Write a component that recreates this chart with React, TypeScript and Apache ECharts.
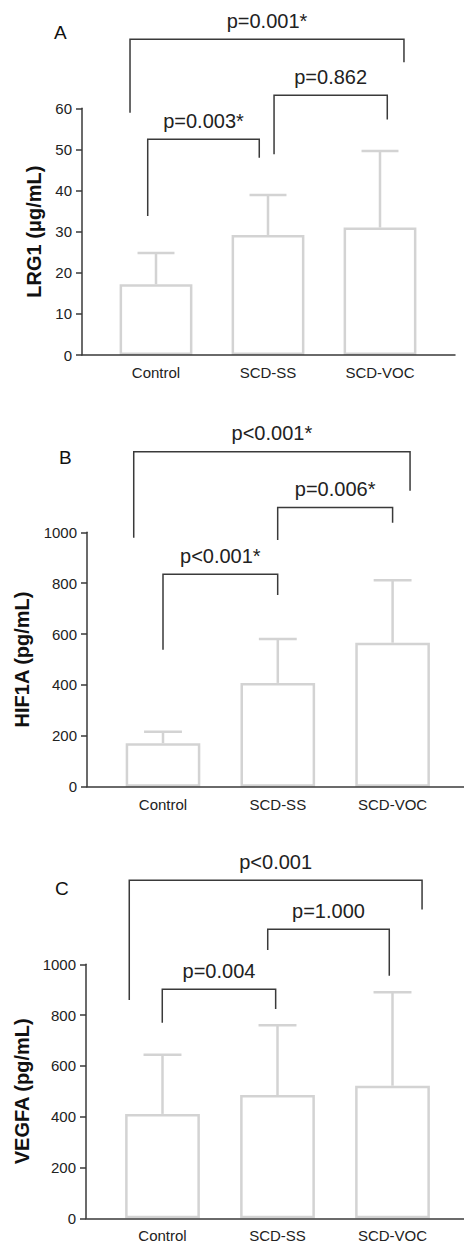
import React, { useEffect, useRef } from "react";
import * as echarts from "echarts";

const categories = ["Control", "SCD-SS", "SCD-VOC"];

// Panel A: LRG1 (µg/mL)
const lrg1Mean = [17.2, 29.2, 31.0];
const lrg1SD = [7.6, 9.7, 18.6];
// Panel B: HIF1A (pg/mL)
const hif1aMean = [171, 408, 566];
const hif1aSD = [45, 173, 246];
// Panel C: VEGFA (pg/mL)
const vegfaMean = [411, 485, 522];
const vegfaSD = [233, 275, 368];

// brackets: [xStart(cat units), xEnd(cat units), level, leftLegEnd, rightLegEnd]
const lrg1Brackets = [
  [-0.232, 2.214, 76.8, 58.9, 71.2],
  [-0.074, 0.922, 52.5, 33.8, 48.0],
  [1.054, 2.065, 63.2, 48.8, 57.3],
];
const lrg1BracketLabels = ["p=0.001*", "p=0.003*", "p=0.862"];
const hif1aBrackets = [
  [-0.255, 2.152, 1317, 979, 1163],
  [0.999, 2.0, 1097, 970, 1038],
  [0.0, 0.999, 835, 538, 754],
];
const hif1aBracketLabels = ["p<0.001*", "p=0.006*", "p<0.001*"];
const vegfaBrackets = [
  [-0.289, 2.257, 1331, 859, 1216],
  [0.915, 1.972, 1138, 1056, 955],
  [-0.002, 0.984, 902, 770, 824],
];
const vegfaBracketLabels = ["p<0.001", "p=1.000", "p=0.004"];

const yMax = [60, 1000, 1000];
const yInterval = [10, 200, 200];
const yNames = ["LRG1 (μg/mL)", "HIF1A (pg/mL)", "VEGFA (pg/mL)"];
const panelLetters = ["A", "B", "C"];

const FONT = "'Liberation Sans', Arial, Helvetica, sans-serif";
const BAR_COLOR = "#d3d3d3";
const LINE_COLOR = "#3a3a3a";
const TEXT_COLOR = "#222";

export default function App() {
  const ref = useRef<HTMLDivElement>(null);

  useEffect(() => {
    if (!ref.current) return;
    const chart = echarts.init(ref.current, undefined, { renderer: "svg" });

    const means = [lrg1Mean, hif1aMean, vegfaMean];
    const sds = [lrg1SD, hif1aSD, vegfaSD];
    const brackets = [lrg1Brackets, hif1aBrackets, vegfaBrackets];
    const bracketLabels = [lrg1BracketLabels, hif1aBracketLabels, vegfaBracketLabels];

    // layout (pixels)
    const layout = [
      { dataLeft: 100, dataWidth: 336, frameLeft: 82, frameWidth: 373, top: 108.3, height: 246.7, nameGap: 37, letter: { left: 54, top: 23 } },
      { dataLeft: 105.6, dataWidth: 344.4, frameLeft: 87, frameWidth: 377, top: 532.3, height: 254.4, nameGap: 55, letter: { left: 59, top: 448 } },
      { dataLeft: 105, dataWidth: 345, frameLeft: 86, frameWidth: 378, top: 964.3, height: 254, nameGap: 54, letter: { left: 55, top: 879 } },
    ];

    const grid: any[] = [];
    const xAxis: any[] = [];
    const yAxis: any[] = [];
    const series: any[] = [];
    const title: any[] = [];

    layout.forEach((L, p) => {
      const frameIdx = 2 * p;
      const dataIdx = 2 * p + 1;
      grid.push({ left: L.frameLeft, width: L.frameWidth, top: L.top, height: L.height });
      grid.push({ left: L.dataLeft, width: L.dataWidth, top: L.top, height: L.height });

      xAxis.push({
        type: "value",
        gridIndex: frameIdx,
        min: 0,
        max: 1,
        z: 5,
        axisLine: { show: true, lineStyle: { color: LINE_COLOR, width: 1.5 } },
        axisTick: { show: false },
        axisLabel: { show: false },
        splitLine: { show: false },
      });
      xAxis.push({
        type: "category",
        gridIndex: dataIdx,
        data: categories,
        axisLine: { show: false },
        axisTick: { show: false },
        axisLabel: { fontSize: 15, color: TEXT_COLOR, fontFamily: FONT, margin: 10 },
        splitLine: { show: false },
      });

      yAxis.push({
        type: "value",
        gridIndex: frameIdx,
        min: 0,
        max: yMax[p],
        interval: yInterval[p],
        z: 5,
        axisLine: { show: true, lineStyle: { color: LINE_COLOR, width: 1.5 } },
        axisTick: { show: true, length: 6, lineStyle: { color: LINE_COLOR, width: 1.5 } },
        axisLabel: {
          fontSize: 15,
          color: TEXT_COLOR,
          fontFamily: FONT,
          margin: 10,
          formatter: (v: number) => String(v),
        },
        splitLine: { show: false },
        name: yNames[p],
        nameLocation: "middle",
        nameGap: L.nameGap,
        nameTextStyle: { fontSize: 20, fontWeight: "bold", color: "#111", fontFamily: FONT },
      });
      yAxis.push({
        type: "value",
        gridIndex: dataIdx,
        min: 0,
        max: yMax[p],
        show: false,
      });

      title.push({
        text: panelLetters[p],
        left: L.letter.left,
        top: L.letter.top,
        padding: 0,
        textStyle: { fontSize: 19, fontWeight: "normal", color: "#111", fontFamily: FONT },
      });

      series.push({
        type: "bar",
        xAxisIndex: dataIdx,
        yAxisIndex: dataIdx,
        data: means[p],
        barWidth: "65%",
        itemStyle: { color: "#ffffff", borderColor: BAR_COLOR, borderWidth: 2.5 },
        silent: true,
      });

      const errData = means[p].map((m, i) => [i, m, m + sds[p][i]]);
      series.push({
        type: "custom",
        xAxisIndex: dataIdx,
        yAxisIndex: dataIdx,
        data: errData,
        clip: false,
        z: 3,
        renderItem: (params: any, api: any) => {
          const i = api.value(0);
          const lo = api.coord([i, api.value(1)]);
          const hi = api.coord([i, api.value(2)]);
          const bw = api.size([1, 0])[0];
          const half = bw * 0.165;
          const style = { stroke: BAR_COLOR, lineWidth: 2.5 };
          return {
            type: "group",
            children: [
              { type: "line", shape: { x1: lo[0], y1: lo[1], x2: hi[0], y2: hi[1] }, style },
              { type: "line", shape: { x1: hi[0] - half, y1: hi[1], x2: hi[0] + half, y2: hi[1] }, style },
            ],
          };
        },
      });

      const labels = bracketLabels[p];
      series.push({
        type: "custom",
        xAxisIndex: dataIdx,
        yAxisIndex: dataIdx,
        data: brackets[p],
        clip: false,
        z: 4,
        renderItem: (params: any, api: any) => {
          const x1v = api.value(0);
          const x2v = api.value(1);
          const lvl = api.value(2);
          const lEnd = api.value(3);
          const rEnd = api.value(4);
          const bw = api.size([1, 0])[0];
          const c0 = api.coord([0, lvl]);
          const x1 = c0[0] + x1v * bw;
          const x2 = c0[0] + x2v * bw;
          const y = c0[1];
          const yl = api.coord([0, lEnd])[1];
          const yr = api.coord([0, rEnd])[1];
          return {
            type: "group",
            children: [
              {
                type: "polyline",
                shape: { points: [[x1, yl], [x1, y], [x2, y], [x2, yr]] },
                style: { stroke: LINE_COLOR, lineWidth: 1.5, fill: "none" },
              },
              {
                type: "text",
                style: {
                  x: (x1 + x2) / 2,
                  y: y - 18.5,
                  text: labels[params.dataIndex],
                  align: "center",
                  verticalAlign: "middle",
                  fontSize: 20,
                  fontFamily: FONT,
                  fill: TEXT_COLOR,
                },
              },
            ],
          };
        },
      });
    });

    chart.setOption({
      animation: false,
      backgroundColor: "#ffffff",
      title,
      grid,
      xAxis,
      yAxis,
      series,
    });

    return () => {
      chart.dispose();
    };
  }, []);

  return (
    <div
      ref={ref}
      style={{ position: "absolute", left: 0, top: 0, width: 464, height: 1246 }}
    />
  );
}
